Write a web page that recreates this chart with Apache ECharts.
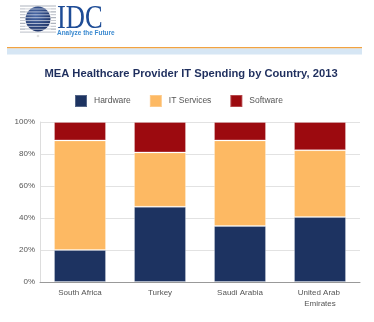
<!DOCTYPE html>
<html>
<head>
<meta charset="utf-8">
<script src="https://cdn.jsdelivr.net/npm/echarts@6/dist/echarts.min.js"></script>
<style>
  html, body { margin: 0; padding: 0; background: #fff; }
  #chart { width: 374px; height: 322px; }
</style>
</head>
<body>
<div id="chart"></div>
<script>
// Countries and spending shares (percent of total IT spending)
const countries = ['South Africa', 'Turkey', 'Saudi Arabia', 'United Arab Emirates'];
const hardware = [20, 47, 35, 40.6];
const itServices = [68.5, 34, 53.5, 41.8];
const software = [11.5, 19, 11.5, 17.6];
const yTicks = [0, 20, 40, 60, 80, 100];

const navy = '#1d3361';
const orange = '#fdb963';
const red = '#9c0a0f';

// Logo: striped globe with wordmark
const logo = [];
for (let i = 0; i < 10; i++) {
  const y = 6 + i * 2.9;
  logo.push({
    type: 'line', shape: { x1: 20, y1: y, x2: 56, y2: y },
    style: { stroke: i % 2 ? '#c9ccd3' : '#aeb3bd', lineWidth: 1.2 }
  });
}
logo.push({
  type: 'circle', shape: { cx: 38, cy: 19, r: 12.5 },
  style: {
    fill: { type: 'radial', x: 0.4, y: 0.35, r: 0.8,
      colorStops: [{ offset: 0, color: '#4a6aa8' }, { offset: 1, color: '#14285a' }] }
  }
});
for (let i = 0; i < 8; i++) {
  const y = 9 + i * 2.9;
  logo.push({
    type: 'line', shape: { x1: 25, y1: y, x2: 51, y2: y },
    style: { stroke: 'rgba(255,255,255,0.75)', lineWidth: 0.8 }
  });
}
logo.push({
  type: 'ellipse', shape: { cx: 38, cy: 36, rx: 17, ry: 1.8 },
  style: { fill: { type: 'radial', x: 0.5, y: 0.5, r: 0.5,
    colorStops: [{ offset: 0, color: 'rgba(150,150,150,0.6)' }, { offset: 1, color: 'rgba(200,200,200,0)' }] } }
});
logo.push({
  type: 'text', x: 57, y: 2, scaleX: 0.78,
  style: { text: 'IDC', font: '34px "Liberation Serif"', fill: '#1e4c96' }
});
logo.push({
  type: 'text', x: 57, y: 29.5, scaleX: 0.92,
  style: { text: 'Analyze the Future', font: 'bold 7px "Liberation Sans"', fill: '#3b8ad0' }
});
// Header rules
logo.push({ type: 'rect', shape: { x: 7, y: 47, width: 355, height: 1.5 }, style: { fill: '#f2a341' } });
logo.push({ type: 'rect', shape: { x: 7, y: 48.5, width: 355, height: 6 }, style: { fill: '#d6e6f4' } });

const chart = echarts.init(document.getElementById('chart'), null, { renderer: 'canvas' });

const barStyle = (c) => ({ color: c, borderColor: 'rgba(255,255,255,0.25)', borderWidth: 1 });

chart.setOption({
  animation: false,
  backgroundColor: '#fff',
  graphic: logo,
  title: {
    text: 'MEA Healthcare Provider IT Spending by Country, 2013',
    left: 186, top: 63, textAlign: 'center',
    textStyle: { fontFamily: 'Liberation Sans', fontSize: 11.2, fontWeight: 'bold', color: '#1f2f5e' }
  },
  legend: {
    top: 94, left: 74, padding: 0,
    itemWidth: 12, itemHeight: 12, itemGap: 18,
    icon: 'rect',
    textStyle: { fontFamily: 'Liberation Sans', fontSize: 8.5, color: '#555', padding: [0, 0, 0, 2] },
    data: ['Hardware', 'IT Services', 'Software']
  },
  grid: { left: 40, right: 14, top: 122, bottom: 40, containLabel: false },
  xAxis: {
    type: 'category', data: countries,
    axisLine: { lineStyle: { color: '#999' } },
    axisTick: { show: false },
    axisLabel: {
      fontFamily: 'Liberation Sans', fontSize: 8, color: '#555', margin: 6,
      width: 60, overflow: 'break', lineHeight: 10.5, interval: 0
    }
  },
  yAxis: {
    type: 'value', min: yTicks[0], max: yTicks[yTicks.length - 1], interval: 20,
    axisLine: { show: true, lineStyle: { color: '#ddd' } },
    axisTick: { show: false },
    splitLine: { lineStyle: { color: '#e2e2e2' } },
    axisLabel: { formatter: '{value}%', fontFamily: 'Liberation Sans', fontSize: 8, color: '#555', margin: 5 }
  },
  series: [
    { name: 'Hardware', type: 'bar', stack: 'total', barWidth: 52, data: hardware, itemStyle: barStyle(navy) },
    { name: 'IT Services', type: 'bar', stack: 'total', barWidth: 52, data: itServices, itemStyle: barStyle(orange) },
    { name: 'Software', type: 'bar', stack: 'total', barWidth: 52, data: software, itemStyle: barStyle(red) }
  ]
});
</script>
</body>
</html>
